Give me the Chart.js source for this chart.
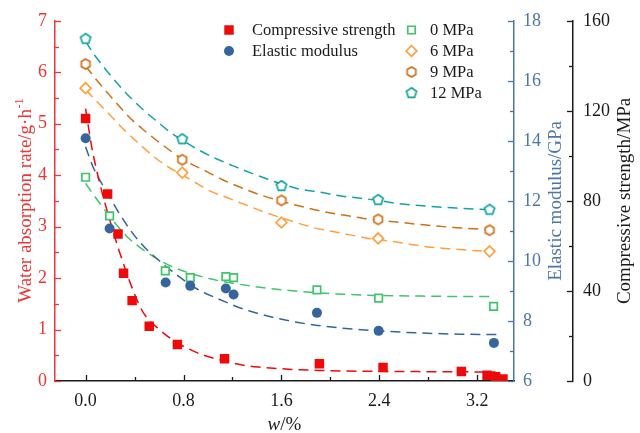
<!DOCTYPE html>
<html lang="en">
<head>
<meta charset="UTF-8">
<meta name="viewport" content="width=device-width, initial-scale=1.0">
<title>Water absorption rate, elastic modulus and compressive strength vs w</title>
<script src="https://cdn.jsdelivr.net/npm/chart.js"></script>
<style>
    html, body { margin: 0; padding: 0; background: #fff; }
    canvas { display: block; }
</style>
</head>
<body>
<canvas id="chart" width="640" height="433"></canvas>
<script>
// ---- values ----
const seriesLabels = ['Compressive strength', 'Elastic modulus', '0 MPa', '6 MPa', '9 MPa', '12 MPa'];
const rateTitle = 'Water absorption rate/g\u00b7h';
const rateTitleSup = '-1';
const modulusTitle = 'Elastic modulus/GPa';
const strengthTitle = 'Compressive strength/MPa';

// compressive strength (MPa), outer right axis
const strengthW   = [0, 0.18, 0.265, 0.31, 0.38, 0.52, 0.75, 1.135, 1.91, 2.43, 3.07, 3.28, 3.35, 3.41];
const strengthMPa = [116.6, 83.1, 65.3, 47.9, 35.7, 24.3, 16.2, 9.9, 7.7, 6.0, 4.2, 2.6, 1.9, 0.9];
const strengthFitW   = [0, 0.05, 0.115, 0.2, 0.273, 0.39, 0.47, 0.6, 0.71, 0.9, 1.04, 1.26, 1.41, 1.9, 2.4, 3.35];
const strengthFitMPa = [121, 104, 88, 71, 58, 40, 30.5, 23, 18.3, 12.8, 10.2, 7.3, 6.2, 4.7, 4.3, 4.0];

// elastic modulus (GPa), inner right axis
const modulusW   = [0, 0.196, 0.654, 0.855, 1.146, 1.209, 1.89, 2.394, 3.336];
const modulusGPa = [14.09, 11.08, 9.28, 9.17, 9.08, 8.88, 8.27, 7.67, 7.27];
const modulusFitW   = [0, 0.06, 0.13, 0.21, 0.28, 0.36, 0.455, 0.55, 0.9, 1.07, 1.34, 1.75, 2.18, 2.62, 3.06, 3.4];
const modulusFitGPa = [13.8, 13.14, 12.59, 12.04, 11.55, 11.06, 10.57, 10.19, 9.09, 8.76, 8.33, 7.94, 7.73, 7.62, 7.56, 7.55];

// water absorption rate, left axis
const rate0W = [0, 0.196, 0.651, 0.855, 1.146, 1.209, 1.89, 2.394, 3.333];
const rate0  = [3.96, 3.21, 2.14, 2.01, 2.03, 2.01, 1.77, 1.61, 1.45];
const rate0FitW = [0, 0.074, 0.142, 0.237, 0.35, 0.52, 0.71, 1.01, 1.37, 1.75, 2.16, 2.92, 3.3];
const rate0Fit  = [3.84, 3.59, 3.37, 3.08, 2.78, 2.47, 2.22, 1.99, 1.84, 1.74, 1.68, 1.645, 1.64];

const pressW = [0, 0.79, 1.6, 2.39, 3.3];
const rate6  = [5.69, 4.05, 3.08, 2.77, 2.52];
const rate9  = [6.16, 4.30, 3.51, 3.14, 2.93];
const rate12 = [6.65, 4.70, 3.79, 3.52, 3.33];

const rate6FitW = [0, 0.11, 0.21, 0.31, 0.41, 0.6, 0.88, 1.01, 1.16, 1.3, 1.44, 1.72, 1.86, 2.01, 2.16, 2.29, 2.54, 2.67, 2.82, 2.97, 3.14, 3.3];
const rate6Fit  = [5.66, 5.39, 5.14, 4.89, 4.67, 4.28, 3.88, 3.70, 3.56, 3.43, 3.30, 3.08, 2.98, 2.91, 2.84, 2.78, 2.70, 2.65, 2.60, 2.57, 2.54, 2.52];
const rate9FitW = [0, 0.09, 0.19, 0.29, 0.39, 0.5, 0.6, 0.8, 0.99, 1.12, 1.26, 1.4, 1.53, 1.8, 1.97, 2.12, 2.27, 2.54, 2.78, 3.03, 3.3];
const rate9Fit  = [6.12, 5.85, 5.57, 5.30, 5.05, 4.83, 4.64, 4.30, 4.07, 3.91, 3.77, 3.64, 3.54, 3.37, 3.28, 3.22, 3.16, 3.09, 3.03, 2.98, 2.94];
const rate12FitW = [0, 0.074, 0.169, 0.264, 0.365, 0.476, 0.586, 0.694, 0.79, 0.931, 1.068, 1.217, 1.354, 1.49, 1.6, 1.748, 1.912, 2.075, 2.212, 2.39, 2.54, 2.78, 3.03, 3.3];
const rate12Fit  = [6.6, 6.33, 6.04, 5.77, 5.51, 5.26, 5.04, 4.83, 4.68, 4.48, 4.32, 4.17, 4.04, 3.92, 3.83, 3.73, 3.67, 3.60, 3.56, 3.51, 3.45, 3.40, 3.36, 3.33];

// axis ticks
const xTickValues = [0, 0.4, 0.8, 1.2, 1.6, 2.0, 2.4, 2.8, 3.2];
const labelSteps = { x: 0.8, yRate: 1, yMod: 2, yStr: 40 };

// ---- styles ----
const serif = '"Liberation Serif", "Times New Roman", serif';
const colStrength = '#ee0a0a';
const colRateAxis = '#ee3535';
const colModulus = '#35659c';
const colModAxis = '#4c76a8';
const col0 = '#40c46c';
const col6 = '#ffa03c';
const col9 = '#cd7016';
const col12 = '#15a2a2';
const colText = '#1a1a1a';

function pts(xs, ys) {
    return xs.map((x, i) => ({ x: x, y: ys[i] }));
}

function onStep(v, step) {
    const r = v / step;
    return Math.abs(r - Math.round(r)) < 1e-6;
}

// hollow polygon marker (hexagon / pentagon) used as a point style
function polygonMarker(sides, radius, color) {
    const size = 16;
    const c = document.createElement('canvas');
    c.width = size;
    c.height = size;
    const g = c.getContext('2d');
    g.translate(size / 2, size / 2);
    g.beginPath();
    for (let i = 0; i < sides; i++) {
        const a = -Math.PI / 2 + i * 2 * Math.PI / sides;
        const px = Math.cos(a) * radius, py = Math.sin(a) * radius;
        if (i === 0) g.moveTo(px, py); else g.lineTo(px, py);
    }
    g.closePath();
    g.fillStyle = '#fff';
    g.fill();
    g.strokeStyle = color;
    g.lineWidth = 1.7;
    g.stroke();
    return c;
}

function markers(label, xs, ys, axis, style, radius, fill, stroke, bw) {
    return {
        label: label, data: pts(xs, ys), yAxisID: axis, showLine: false,
        pointStyle: style, pointRadius: radius, pointHoverRadius: radius,
        backgroundColor: fill, borderColor: stroke, pointBorderWidth: bw, order: 0
    };
}

function fitLine(xs, ys, axis, color) {
    return {
        label: '', data: pts(xs, ys), yAxisID: axis, showLine: true,
        pointRadius: 0, pointHoverRadius: 0, borderColor: color, borderWidth: 1.5,
        borderDash: [10, 6], cubicInterpolationMode: 'monotone', fill: false, order: 1
    };
}

const datasets = [
    markers(seriesLabels[0], strengthW, strengthMPa, 'yStr', 'rect', 6.7, colStrength, colStrength, 0),
    markers(seriesLabels[1], modulusW, modulusGPa, 'yMod', 'circle', 5, colModulus, colModulus, 0),
    markers(seriesLabels[2], rate0W, rate0, 'yRate', 'rect', 5.3, '#fff', col0, 1.7),
    markers(seriesLabels[3], pressW, rate6, 'yRate', 'rectRot', 5.4, '#fff', col6, 1.7),
    markers(seriesLabels[4], pressW, rate9, 'yRate', polygonMarker(6, 5, col9), 5, '#fff', col9, 1.7),
    markers(seriesLabels[5], pressW, rate12, 'yRate', polygonMarker(5, 5.3, col12), 5, '#fff', col12, 1.7),
    fitLine(strengthFitW, strengthFitMPa, 'yStr', colStrength),
    fitLine(modulusFitW, modulusFitGPa, 'yMod', colModulus),
    fitLine(rate0FitW, rate0Fit, 'yRate', col0),
    fitLine(rate6FitW, rate6Fit, 'yRate', col6),
    fitLine(rate9FitW, rate9Fit, 'yRate', col9),
    fitLine(rate12FitW, rate12Fit, 'yRate', col12)
];

function rotatedText(ctx, text, x, y, color) {
    ctx.save();
    ctx.translate(x, y);
    ctx.rotate(-Math.PI / 2);
    ctx.fillStyle = color;
    ctx.font = '19px ' + serif;
    ctx.textAlign = 'center';
    ctx.textBaseline = 'alphabetic';
    ctx.fillText(text, 0, 0);
    ctx.restore();
}

// inward ticks, axis titles and the two-column legend
const decor = {
    id: 'decor',
    afterDraw(chart) {
        const ctx = chart.ctx;
        const area = chart.chartArea;
        ctx.save();

        Object.keys(labelSteps).forEach(id => {
            const s = chart.scales[id];
            ctx.strokeStyle = s.options.border.color;
            ctx.lineWidth = 1.3;
            s.ticks.forEach(t => {
                const len = onStep(t.value, labelSteps[id]) ? 6 : 4;
                const p = Math.round(s.getPixelForValue(t.value)) + 0.5;
                ctx.beginPath();
                if (id === 'x') { ctx.moveTo(p, s.top); ctx.lineTo(p, s.top - len); }
                else if (id === 'yRate') { ctx.moveTo(s.right, p); ctx.lineTo(s.right + len, p); }
                else { ctx.moveTo(s.left, p); ctx.lineTo(s.left - len, p); }
                ctx.stroke();
            });
        });

        const midY = (area.top + area.bottom) / 2;

        // left title with superscript
        ctx.save();
        ctx.translate(31, midY);
        ctx.rotate(-Math.PI / 2);
        ctx.fillStyle = colRateAxis;
        ctx.textAlign = 'left';
        ctx.textBaseline = 'alphabetic';
        ctx.font = '19px ' + serif;
        const wMain = ctx.measureText(rateTitle).width;
        ctx.font = '12px ' + serif;
        const wSup = ctx.measureText(rateTitleSup).width;
        const start = -(wMain + wSup) / 2;
        ctx.font = '19px ' + serif;
        ctx.fillText(rateTitle, start, 0);
        ctx.font = '12px ' + serif;
        ctx.fillText(rateTitleSup, start + wMain + 0.5, -8);
        ctx.restore();

        rotatedText(ctx, modulusTitle, 561, midY, colModAxis);
        rotatedText(ctx, strengthTitle, 630, midY, colText);

        // x title: italic w
        ctx.fillStyle = colText;
        ctx.textAlign = 'left';
        ctx.textBaseline = 'alphabetic';
        ctx.font = 'italic 19px ' + serif;
        const ww = ctx.measureText('w').width;
        ctx.font = '19px ' + serif;
        const wr = ctx.measureText('/%').width;
        const sx = (area.left + area.right) / 2 - (ww + wr) / 2;
        ctx.font = 'italic 19px ' + serif;
        ctx.fillText('w', sx, 430);
        ctx.font = '19px ' + serif;
        ctx.fillText('/%', sx + ww, 430);

        // legend
        const cols = [
            { marker: 229, text: 252, items: [0, 1] },
            { marker: 411.5, text: 430, items: [2, 3, 4, 5] }
        ];
        ctx.font = '16.5px ' + serif;
        ctx.textBaseline = 'middle';
        cols.forEach(col => col.items.forEach((di, r) => {
            const ds = chart.data.datasets[di];
            const y = 30 + r * 21;
            ctx.fillStyle = ds.backgroundColor;
            ctx.strokeStyle = ds.borderColor;
            ctx.lineWidth = ds.pointBorderWidth;
            Chart.helpers.drawPoint(ctx, {
                pointStyle: ds.pointStyle, radius: ds.pointRadius,
                borderWidth: ds.pointBorderWidth, rotation: 0
            }, col.marker, y);
            ctx.fillStyle = colText;
            ctx.fillText(ds.label, col.text, y + 1);
        }));

        ctx.restore();
    }
};

function axisGrid(color) {
    return { display: true, drawOnChartArea: false, drawTicks: false, color: color };
}

new Chart(document.getElementById('chart'), {
    type: 'scatter',
    data: { datasets: datasets },
    options: {
        responsive: false,
        animation: false,
        layout: { padding: { top: 15, left: 0, right: 0, bottom: 0 } },
        plugins: { legend: { display: false }, tooltip: { enabled: false } },
        scales: {
            x: {
                type: 'linear', position: 'bottom', min: -0.25, max: 3.5,
                afterBuildTicks: s => { s.ticks = xTickValues.map(v => ({ value: v })); },
                afterFit: s => { s.height = 52; },
                grid: axisGrid(colText),
                border: { display: true, color: colText, width: 1.5 },
                ticks: {
                    autoSkip: false, maxRotation: 0, padding: 9, color: colText,
                    font: { family: serif, size: 18 },
                    callback: v => onStep(v, labelSteps.x) ? v.toFixed(1) : ''
                }
            },
            yRate: {
                type: 'linear', position: 'left', min: 0, max: 7,
                afterFit: s => { s.width = 55; },
                grid: axisGrid(colRateAxis),
                border: { display: true, color: colRateAxis, width: 1.5 },
                ticks: {
                    stepSize: 0.5, padding: 8, color: colRateAxis,
                    font: { family: serif, size: 18 },
                    callback: v => onStep(v, labelSteps.yRate) ? String(v) : ''
                }
            },
            yMod: {
                type: 'linear', position: 'right', min: 6, max: 18,
                afterFit: s => { s.width = 59; },
                grid: axisGrid(colModAxis),
                border: { display: true, color: colModAxis, width: 1.5 },
                ticks: {
                    stepSize: 1, padding: 9, color: colModAxis,
                    font: { family: serif, size: 18 },
                    callback: v => onStep(v, labelSteps.yMod) ? String(v) : ''
                }
            },
            yStr: {
                type: 'linear', position: 'right', min: 0, max: 160,
                afterFit: s => { s.width = 67; },
                grid: axisGrid(colText),
                border: { display: true, color: colText, width: 1.5 },
                ticks: {
                    stepSize: 20, padding: 10, color: colText,
                    font: { family: serif, size: 18 },
                    callback: v => onStep(v, labelSteps.yStr) ? String(v) : ''
                }
            }
        }
    },
    plugins: [decor]
});
</script>
</body>
</html>
